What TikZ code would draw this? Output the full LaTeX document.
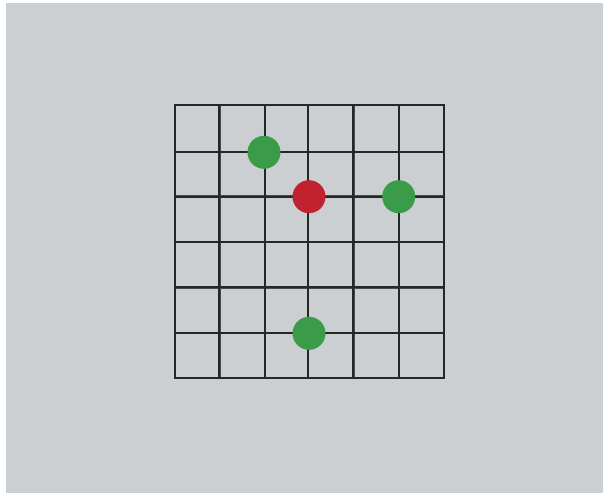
\documentclass[tikz,border=0pt]{standalone}
\definecolor{bggray}{HTML}{CBCFD1}
\definecolor{dotgreen}{HTML}{3A9B48}
\definecolor{dotred}{HTML}{C1222F}
\definecolor{thickline}{HTML}{4A4A4A}
\begin{document}
\begin{tikzpicture}[x=1pt,y=-1pt,
  gridline/.style={draw=black!85,line width=1.7pt},
  heavyline/.style={draw=thickline,line width=3pt},
  dot/.style={circle,inner sep=0pt,minimum size=33pt},
  greendot/.style={dot,fill=dotgreen},
  reddot/.style={dot,fill=dotred}]
\useasboundingbox (0,0) rectangle (603,493);
\fill[white] (0,0) rectangle (603,493);
\fill[bggray] (6,3) rectangle (603,493);
% heavier grid lines
\draw[heavyline] (219,104.7) -- (219,378);
\draw[heavyline] (353.3,104.7) -- (353.3,378);
\draw[heavyline] (174.7,196.7) -- (444,196.7);
\draw[heavyline] (174.7,287.3) -- (444,287.3);
% grid
\foreach \x in {174.7,219,265,308.3,353.3,398.7,444}
  \draw[gridline] (\x,104.7) -- (\x,378);
\foreach \y in {104.7,152.3,196.7,242,287.3,333.3,378}
  \draw[gridline] (174.7,\y) -- (444,\y);
\draw[gridline,line cap=rect] (174.7,104.7) rectangle (444,378);
% dots
\node[greendot] (g1) at (264,152.3) {};
\node[reddot] (r1) at (309,196.7) {};
\node[greendot] (g2) at (398.7,196.7) {};
\node[greendot] (g3) at (309,333.3) {};
\end{tikzpicture}
\end{document}
